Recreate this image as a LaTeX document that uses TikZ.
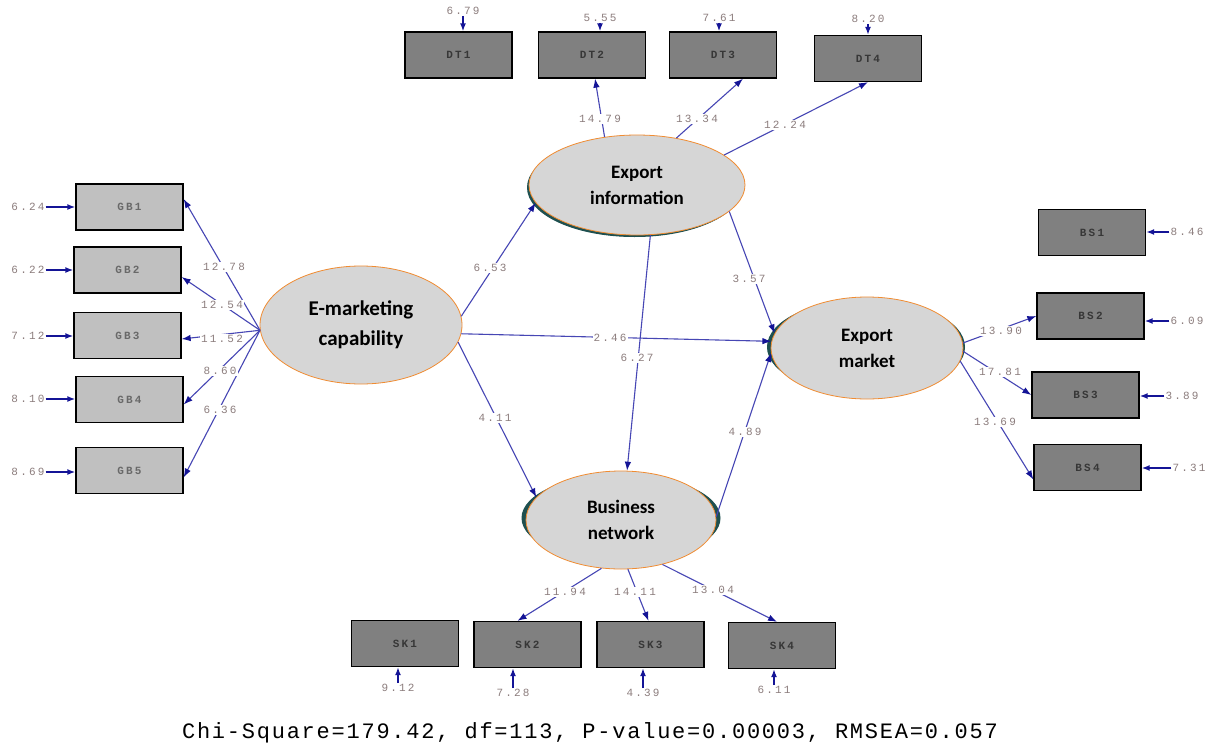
\documentclass[tikz,border=0pt]{standalone}
\usepackage{fontspec}
\usetikzlibrary{shapes.geometric,arrows.meta,calc}
\newfontfamily\lblfont[LetterSpace=20]{Liberation Mono}
\newfontfamily\capfont[LetterSpace=8]{Liberation Mono}
\newfontfamily\ellfont{Carlito}
\definecolor{pathblue}{RGB}{70,70,180}
\definecolor{tipblue}{RGB}{20,20,150}
\definecolor{boxdark}{RGB}{128,128,128}
\definecolor{boxlight}{RGB}{192,192,192}
\definecolor{boxtextdark}{RGB}{55,55,55}
\definecolor{boxtextlight}{RGB}{105,105,105}
\definecolor{ellgray}{RGB}{214,214,214}
\definecolor{ellorange}{RGB}{240,140,50}
\definecolor{shadowteal}{RGB}{30,80,80}
\definecolor{coefcol}{RGB}{140,125,125}
\tikzset{
  obsbox/.style={draw=black, line width=1.3pt, minimum width=107pt, minimum height=46pt, inner sep=0pt,
    font=\lblfont\bfseries\fontsize{11}{12}\selectfont},
  darkbox/.style={obsbox, fill=boxdark, text=boxtextdark},
  lightbox/.style={obsbox, fill=boxlight, text=boxtextlight},
  latent/.style={ellipse, draw=ellorange, line width=0.8pt, fill=ellgray, align=center, inner sep=0pt,
    font=\ellfont\bfseries\fontsize{19}{26}\selectfont},
  shadowell/.style={ellipse, draw=shadowteal, line width=1pt, fill=shadowteal, inner sep=0pt},
  coef/.style={fill=white, inner sep=1pt, text=coefcol, font=\lblfont\fontsize{11}{12}\selectfont},
  errlbl/.style={inner sep=1pt, text=coefcol, font=\lblfont\fontsize{11}{12}\selectfont},
  sempath/.style={draw=pathblue, line width=1.1pt, -{Latex[length=9pt,width=6.5pt,color=tipblue]}},
  errpath/.style={draw=tipblue, line width=1.6pt, -{Latex[length=8pt,width=6pt]}},
}
\begin{document}
\begin{tikzpicture}[x=1pt,y=-1pt]
\useasboundingbox[fill=white] (0,0) rectangle (1218,747);

% observed variables
\node[lightbox] (gb1) at (129.5,207) {GB1};
\node[lightbox] (gb2) at (127.5,270) {GB2};
\node[lightbox] (gb3) at (127.5,335.5) {GB3};
\node[lightbox] (gb4) at (129.5,399.5) {GB4};
\node[lightbox] (gb5) at (129.5,470.5) {GB5};
\node[darkbox] (dt1) at (458.5,55) {DT1};
\node[darkbox] (dt2) at (592,55) {DT2};
\node[darkbox] (dt3) at (723,55) {DT3};
\node[darkbox] (dt4) at (868,58.5) {DT4};
\node[darkbox] (bs1) at (1092,232.5) {BS1};
\node[darkbox] (bs2) at (1090.5,316) {BS2};
\node[darkbox] (bs3) at (1085.5,395) {BS3};
\node[darkbox] (bs4) at (1087.5,467.5) {BS4};
\node[darkbox] (sk1) at (405,643.5) {SK1};
\node[darkbox] (sk2) at (527.5,644.5) {SK2};
\node[darkbox] (sk3) at (650.5,644.5) {SK3};
\node[darkbox] (sk4) at (782,645.5) {SK4};

% latent variables
\node[shadowell, minimum width=214pt, minimum height=98pt] (eish) at (634.5,187.5) {};
\node[shadowell, minimum width=197pt, minimum height=94pt] (emsh) at (866,347) {};
\node[shadowell, minimum width=198pt, minimum height=86pt] (bnsh) at (621,518) {};
\node[latent, minimum width=202pt, minimum height=118pt, font=\ellfont\bfseries\fontsize{21}{30}\selectfont] (emk) at (361,325) {E-marketing\\capability};
\node[latent, minimum width=216pt, minimum height=100pt] (ei) at (637,185) {Export\\information};
\node[latent, minimum width=192pt, minimum height=102pt] (em) at (867,348) {Export\\market};
\node[latent, minimum width=190pt, minimum height=98pt] (bn) at (621,520) {Business\\network};

% loadings
\draw[sempath] (emk.183) -- ($(gb1.east)+(0,-8)$);
\draw[sempath] (emk.183) -- ($(gb2.east)+(0,7)$);
\draw[sempath] (emk.183) -- ($(gb3.east)+(0,3.5)$);
\draw[sempath] (emk.183) -- ($(gb4.east)+(0,5)$);
\draw[sempath] (emk.183) -- ($(gb5.east)+(0,7)$);
\draw[sempath] (ei.124) -- ($(dt2.south)+(3,0)$);
\draw[sempath] (ei.50) -- ($(dt3.south)+(20,0)$);
\draw[sempath] (ei.19) -- (dt4.south);
\draw[sempath] (bn.-112) -- ($(sk2.north)+(-10,0)$);
\draw[sempath] (bn.-82) -- ($(sk3.north)+(-2,0)$);
\draw[sempath] (bn.-47) -- ($(sk4.north)+(-5,0)$);
\draw[sempath] (em.3) -- (bs2.west);
\draw[sempath] (em.-2) -- (bs3.west);
\draw[sempath] (em.-8) -- ($(bs4.west)+(0,12)$);

% structural paths
\draw[sempath] (emk.5) -- (ei.190);
\draw[sempath] (emk.-5) -- (em.176);
\draw[sempath] (emk.-10) -- (bn.165);
\draw[sempath] (ei.-75) -- (bn.83);
\draw[sempath] (ei.-16) -- (em.171);
\draw[sempath] (bn.2) -- (em.183);

% coefficients
\node[coef] (c1) at (224,267) {12.78};
\node[coef] (c2) at (222,305) {12.54};
\node[coef] (c3) at (222,339) {11.52};
\node[coef] (c4) at (220,371) {8.60};
\node[coef] (c5) at (220,410) {6.36};
\node[coef] (c6) at (490,268) {6.53};
\node[coef] (c7) at (610,338) {2.46};
\node[coef] (c8) at (495,418) {4.11};
\node[coef] (c9) at (637,358) {6.27};
\node[coef] (c10) at (749,279) {3.57};
\node[coef] (c11) at (745,432) {4.89};
\node[coef] (c12) at (600,119) {14.79};
\node[coef] (c13) at (697,119) {13.34};
\node[coef] (c14) at (785,125) {12.24};
\node[coef] (c15) at (565,592) {11.94};
\node[coef] (c16) at (635,592) {14.11};
\node[coef] (c17) at (713,590) {13.04};
\node[coef] (c18) at (1001,331) {13.90};
\node[coef] (c19) at (1000,372) {17.81};
\node[coef] (c20) at (995,422) {13.69};

% error variances
\node[errlbl] (egb1) at (28,207) {6.24};
\node[errlbl] (egb2) at (28,270) {6.22};
\node[errlbl] (egb3) at (28,336) {7.12};
\node[errlbl] (egb4) at (28,399) {8.10};
\node[errlbl] (egb5) at (28,472) {8.69};
\foreach \i in {1,...,5} {\draw[errpath] (egb\i.east) -- (egb\i.east -| gb\i.west);}
\node[errlbl] (edt1) at (463,11) {6.79};
\node[errlbl] (edt2) at (600,18) {5.55};
\node[errlbl] (edt3) at (719,18) {7.61};
\node[errlbl] (edt4) at (868,19) {8.20};
\foreach \i in {1,...,4} {\draw[errpath] (edt\i.south) -- (edt\i.south |- dt\i.north);}
\node[errlbl] (esk1) at (398,688) {9.12};
\node[errlbl] (esk2) at (513,693) {7.28};
\node[errlbl] (esk3) at (643,693) {4.39};
\node[errlbl] (esk4) at (774,690) {6.11};
\foreach \i in {1,...,4} {\draw[errpath] (esk\i.north) -- (esk\i.north |- sk\i.south);}
\node[errlbl] (ebs1) at (1187,232) {8.46};
\node[errlbl] (ebs2) at (1187,321) {6.09};
\node[errlbl] (ebs3) at (1182,396) {3.89};
\node[errlbl] (ebs4) at (1189,468) {7.31};
\foreach \i in {1,...,4} {\draw[errpath] (ebs\i.west) -- (ebs\i.west -| bs\i.east);}

% fit statistics
\node[text=black, font=\capfont\fontsize{22}{24}\selectfont] (fit) at (590,733) {Chi-Square=179.42, df=113, P-value=0.00003, RMSEA=0.057};
\end{tikzpicture}
\end{document}
